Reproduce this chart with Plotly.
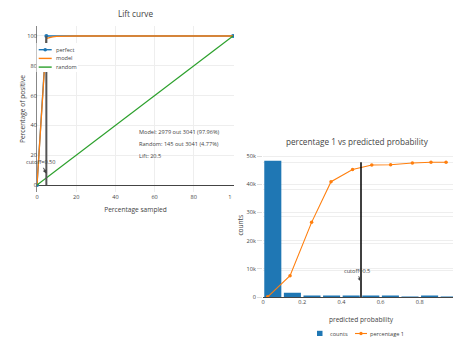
import plotly.graph_objects as go

W, H = 461, 337
OFF = 8  # the page body margin: the figure starts 8px in from the window's corner


def fx(px):
    return (px - OFF) / W


def fy(py):
    return 1 - (py - OFF) / H


# ---------------- Lift curve data ----------------
perfect_x = [0, 4.77, 100]
perfect_y = [0, 100, 100]
model_x = [0, 1, 2, 3, 4, 4.77, 5.5, 6.5, 8, 10, 13, 20, 100]
model_y = [0, 20.6, 41.2, 61.8, 82.3, 97.96, 98.6, 99.0, 99.4, 99.7, 99.9, 100, 100]
random_x = [0, 100]
random_y = [0, 100]
cutoff_pct = 4.77
lift_lines = ["Model: 2979 out 3041 (97.96%)", "Random: 145 out 3041 (4.77%)", "Lift: 20.5"]
lift_text_y = [35.4, 27.3, 19.5]

# ---------------- percentage 1 vs predicted probability ----------------
bin_centers = [0.05, 0.15, 0.25, 0.35, 0.45, 0.55, 0.65, 0.75, 0.85, 0.95]
counts = [48300, 1550, 350, 300, 450, 250, 250, 120, 300, 100]
pct_x = [0.024, 0.138, 0.248, 0.347, 0.457, 0.555, 0.651, 0.762, 0.857, 0.934]
pct_y = [0.1, 15.8, 55.4, 85.6, 94.6, 98.0, 98.2, 99.5, 100, 100]
cutoff_prob = 0.5

FONT = "Open Sans, Verdana, Arial, sans-serif"
GREY = "#444"
BLUE, ORANGE, GREEN = "#1f77b4", "#ff7f0e", "#2ca02c"
TICK = 5.6
AXT = 6.6

fig = go.Figure()

fig.add_trace(go.Scatter(x=perfect_x, y=perfect_y, name="perfect", mode="lines+markers",
                         line=dict(color=BLUE, width=1.3), marker=dict(size=4, color=BLUE),
                         xaxis="x", yaxis="y", showlegend=False))
fig.add_trace(go.Scatter(x=model_x, y=model_y, name="model", mode="lines",
                         line=dict(color=ORANGE, width=1.3), xaxis="x", yaxis="y", showlegend=False))
fig.add_trace(go.Scatter(x=random_x, y=random_y, name="random", mode="lines",
                         line=dict(color=GREEN, width=1.2), xaxis="x", yaxis="y", showlegend=False))

fig.add_trace(go.Bar(x=bin_centers, y=counts, name="counts", marker=dict(color=BLUE, line=dict(width=0)),
                     xaxis="x2", yaxis="y2", showlegend=False))
fig.add_trace(go.Scatter(x=pct_x, y=pct_y, name="percentage 1", mode="lines+markers",
                         line=dict(color=ORANGE, width=1.1), marker=dict(size=3.5, color=ORANGE),
                         xaxis="x2", yaxis="y3", showlegend=False))

tickfont = dict(family=FONT, size=TICK, color=GREY)
titlefont = dict(family=FONT, size=AXT, color=GREY)

fig.update_layout(
    width=W, height=H,
    template="none",
    margin=dict(l=0, r=0, t=0, b=0, pad=0),
    paper_bgcolor="white", plot_bgcolor="white",
    font=dict(family=FONT, size=TICK, color=GREY),
    showlegend=False,
    bargap=0.13,
    title=dict(text="Lift curve", x=fx(135.5), y=fy(14), xanchor="center", yanchor="middle",
               font=dict(family=FONT, size=8.2, color=GREY)),
    xaxis=dict(domain=[fx(37), fx(234)], range=[0, 100.5], dtick=20, anchor="y",
               showgrid=True, gridcolor="#eee", gridwidth=1, zeroline=False, showline=False,
               ticks="", tickfont=tickfont,
               title=dict(text="Percentage sampled", font=titlefont, standoff=7)),
    yaxis=dict(domain=[fy(192), fy(26)], range=[-4.7, 106.7], dtick=20, anchor="x",
               showgrid=True, gridcolor="#eee", gridwidth=1,
               zeroline=True, zerolinecolor=GREY, zerolinewidth=1,
               showline=True, linecolor="#888", linewidth=1,
               ticks="", tickfont=tickfont, ticklabelstandoff=-2,
               title=dict(text="Percentage of positive", font=titlefont, standoff=0)),
    xaxis2=dict(domain=[fx(263), fx(459)], range=[0, 1], dtick=0.2, anchor="y2",
                showgrid=False, zeroline=False, showline=False, ticks="", tickfont=tickfont,
                title=dict(text="predicted probability", font=titlefont, standoff=12)),
    yaxis2=dict(domain=[fy(297), fy(153.5)], range=[0, 50900], dtick=10000, anchor="x2",
                showgrid=True, gridcolor="#eee", gridwidth=1,
                zeroline=True, zerolinecolor=GREY, zerolinewidth=1,
                ticks="outside", ticklen=5, tickcolor="#ddd", tickfont=tickfont,
                title=dict(text="counts", font=titlefont, standoff=2)),
    yaxis3=dict(overlaying="y2", side="right", anchor="x2", range=[0, 106.5], dtick=20,
                showgrid=True, gridcolor="#eee", gridwidth=1, zeroline=False,
                ticks="outside", ticklen=5, tickcolor="#b9a3d9", showticklabels=False),
)

shapes = []
# cutoff line on lift curve
shapes.append(dict(type="line", xref="x", yref="y", x0=cutoff_pct, x1=cutoff_pct, y0=0, y1=100,
                   line=dict(color="#555", width=2), layer="above"))
# cutoff line on probability chart
shapes.append(dict(type="line", xref="x2", yref="y3", x0=cutoff_prob, x1=cutoff_prob, y0=0, y1=100,
                   line=dict(color="black", width=1.5), layer="above"))

# legend of the lift curve (compact, drawn to the reference's scale)
shapes.append(dict(type="rect", xref="paper", yref="paper", x0=fx(36.5), x1=fx(78), y0=fy(72), y1=fy(43),
                   fillcolor="white", line=dict(width=0), layer="above"))
leg_rows = [("perfect", BLUE, 49.7), ("model", ORANGE, 58.4), ("random", GREEN, 67.1)]
annotations = []
for name, col, py in leg_rows:
    shapes.append(dict(type="line", xref="paper", yref="paper", x0=fx(38.7), x1=fx(51.7), y0=fy(py), y1=fy(py),
                       line=dict(color=col, width=1.4), layer="above"))
    annotations.append(dict(text=name, xref="paper", yref="paper", x=fx(53.8), y=fy(py), xanchor="left",
                            yanchor="middle", showarrow=False, font=dict(family=FONT, size=TICK, color=GREY)))
shapes.append(dict(type="circle", xref="paper", yref="paper", x0=fx(43.4), x1=fx(47), y0=fy(51.5), y1=fy(47.9),
                   fillcolor=BLUE, line=dict(width=0), layer="above"))

# clip of the lift chart where the second chart overlaps it
shapes.append(dict(type="rect", xref="paper", yref="paper", x0=fx(231.3), x1=fx(262), y0=fy(206), y1=fy(193),
                   fillcolor="white", line=dict(width=0), layer="above"))

# legend of the probability chart
shapes.append(dict(type="rect", xref="paper", yref="paper", x0=fx(317), x1=fx(322.5), y0=fy(336), y1=fy(330.8),
                   fillcolor=BLUE, line=dict(width=0), layer="above"))
annotations.append(dict(text="counts", xref="paper", yref="paper", x=fx(327.5), y=fy(333.5), xanchor="left",
                        yanchor="middle", showarrow=False, font=dict(family=FONT, size=TICK, color=GREY)))
shapes.append(dict(type="line", xref="paper", yref="paper", x0=fx(355), x1=fx(367), y0=fy(333.5), y1=fy(333.5),
                   line=dict(color=ORANGE, width=1.1), layer="above"))
shapes.append(dict(type="circle", xref="paper", yref="paper", x0=fx(359.3), x1=fx(362.7), y0=fy(335.2), y1=fy(331.8),
                   fillcolor=ORANGE, line=dict(width=0), layer="above"))
annotations.append(dict(text="percentage 1", xref="paper", yref="paper", x=fx(367.5), y=fy(333.5), xanchor="left",
                        yanchor="middle", showarrow=False, font=dict(family=FONT, size=TICK, color=GREY)))

# lift text
for txt, yv in zip(lift_lines, lift_text_y):
    annotations.append(dict(text=txt, xref="x", yref="y", x=50.9, y=yv, xanchor="left", yanchor="middle",
                            showarrow=False, font=dict(family=FONT, size=TICK, color=GREY)))

# cutoff annotations
annotations.append(dict(text="cutoff=0.50", xref="x", yref="y", x=cutoff_pct, y=7.5, ax=-5.5, ay=-11.5,
                        showarrow=True, arrowhead=2, arrowsize=0.8, arrowwidth=1, arrowcolor=GREY,
                        font=dict(family=FONT, size=TICK, color=GREY)))
annotations.append(dict(text="cutoff=0.5", xref="x2", yref="y2", x=cutoff_prob, y=5400, ax=-4.5, ay=-11,
                        showarrow=True, arrowhead=2, arrowsize=0.8, arrowwidth=1, arrowcolor=GREY,
                        font=dict(family=FONT, size=TICK, color=GREY)))

# title of the second chart
annotations.append(dict(text="percentage 1 vs predicted probability", xref="paper", yref="paper",
                        x=fx(357.5), y=fy(141), xanchor="center", yanchor="middle", showarrow=False,
                        font=dict(family=FONT, size=8.2, color=GREY)))

fig.update_layout(shapes=shapes, annotations=annotations)

fig.write_html("out.html")
